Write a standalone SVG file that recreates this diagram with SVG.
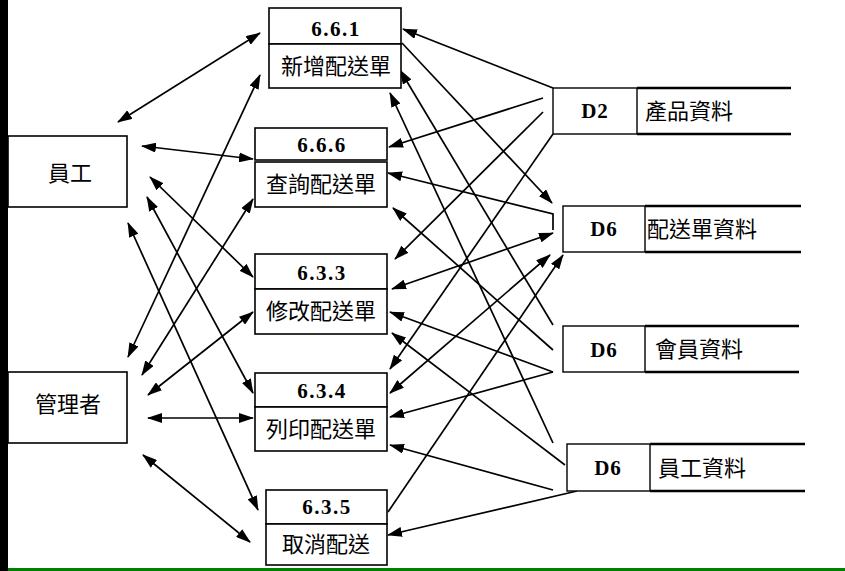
<svg xmlns="http://www.w3.org/2000/svg" width="845" height="571" viewBox="0 0 845 571">
<style>
.box{fill:#fff;stroke:#000;stroke-width:1.6}
.sbox{fill:#fff;stroke:#000;stroke-width:1.4}
.sline{stroke:#000;stroke-width:2.4}
.num{font-family:"Liberation Serif",serif;font-weight:bold;font-size:21px;text-anchor:middle;letter-spacing:1.5px}
.sid{font-family:"Liberation Serif",serif;font-weight:bold;font-size:21px;text-anchor:middle;letter-spacing:1px}
.zh{font-family:"Liberation Serif","Noto Sans CJK TC",serif;font-size:22px;text-anchor:middle}
.zhl{font-family:"Liberation Serif","Noto Sans CJK TC",serif;font-size:22px}
.c{fill:none;stroke:#000;stroke-width:1.7}
</style>
<defs>
<marker id="ah" markerUnits="userSpaceOnUse" markerWidth="15" markerHeight="10" refX="14" refY="5" orient="auto-start-reverse" viewBox="0 0 15 10">
<path d="M0,0 L15,5 L0,10 z" fill="#000"/>
</marker>
</defs>
<rect x="0" y="0" width="845" height="571" fill="#fff"/>

<g id="connectors">
<!-- 員工 -->
<path class="c" d="M118,122 L260,33" marker-start="url(#ah)" marker-end="url(#ah)"/>
<path class="c" d="M142,146 L253,159" marker-start="url(#ah)" marker-end="url(#ah)"/>
<path class="c" d="M150,177 L253,277" marker-start="url(#ah)" marker-end="url(#ah)"/>
<path class="c" d="M147,197 L253,393" marker-start="url(#ah)" marker-end="url(#ah)"/>
<path class="c" d="M128,223 L258,510" marker-start="url(#ah)" marker-end="url(#ah)"/>
<!-- 管理者 -->
<path class="c" d="M128,357 L260,75" marker-start="url(#ah)" marker-end="url(#ah)"/>
<path class="c" d="M142,375 L253,199" marker-start="url(#ah)" marker-end="url(#ah)"/>
<path class="c" d="M148,395 L253,312" marker-start="url(#ah)" marker-end="url(#ah)"/>
<path class="c" d="M148,418 L253,418" marker-start="url(#ah)" marker-end="url(#ah)"/>
<path class="c" d="M143,455 L250,542" marker-start="url(#ah)" marker-end="url(#ah)"/>
<!-- D2 -->
<path class="c" d="M553,88 L403,29" marker-end="url(#ah)"/>
<path class="c" d="M543,98 L389,147" marker-end="url(#ah)"/>
<path class="c" d="M543,112 L395,259" marker-end="url(#ah)"/>
<path class="c" d="M553,134 L390,369" marker-end="url(#ah)"/>
<!-- D6 配送單資料 -->
<path class="c" d="M402,43 L552,203" marker-end="url(#ah)"/>
<path class="c" d="M553,230 L553,214 L388,173" marker-end="url(#ah)"/>
<path class="c" d="M392,289 L553,233" marker-start="url(#ah)" marker-end="url(#ah)"/>
<path class="c" d="M390,393 L550,255" marker-start="url(#ah)" marker-end="url(#ah)"/>
<path class="c" d="M388,512 L563,255" marker-end="url(#ah)"/>
<!-- D6 會員資料 -->
<path class="c" d="M553,325 L400,70" marker-end="url(#ah)"/>
<path class="c" d="M553,350 L393,208" marker-end="url(#ah)"/>
<path class="c" d="M553,372 L390,312" marker-end="url(#ah)"/>
<path class="c" d="M553,372 L390,417" marker-end="url(#ah)"/>
<!-- D6 員工資料 -->
<path class="c" d="M553,443 L390,93" marker-end="url(#ah)"/>
<path class="c" d="M565,465 L392,333" marker-end="url(#ah)"/>
<path class="c" d="M553,490 L390,445" marker-end="url(#ah)"/>
<path class="c" d="M577,491 L388,535" marker-end="url(#ah)"/>
</g>

<g id="e-staff">
<rect class="box" x="8" y="136" width="119" height="71"/>
<text class="zh" x="70" y="181">員工</text>
</g>
<g id="e-manager">
<rect class="box" x="8" y="372" width="119" height="71"/>
<text class="zh" x="68" y="412">管理者</text>
</g>

<g id="p-661">
<rect class="box" x="269" y="8" width="132" height="36"/>
<rect class="box" x="269" y="44" width="132" height="44"/>
<text class="num" x="336" y="36">6.6.1</text>
<text class="zh" x="336" y="74">新增配送單</text>
</g>
<g id="p-666">
<rect class="box" x="255" y="128" width="132" height="32"/>
<rect class="box" x="255" y="162" width="132" height="45"/>
<text class="num" x="322" y="152">6.6.6</text>
<text class="zh" x="321" y="192">查詢配送單</text>
</g>
<g id="p-633">
<rect class="box" x="255" y="254" width="132" height="35"/>
<rect class="box" x="255" y="289" width="132" height="45"/>
<text class="num" x="322" y="280">6.3.3</text>
<text class="zh" x="321" y="319">修改配送單</text>
</g>
<g id="p-634">
<rect class="box" x="255" y="373" width="132" height="34"/>
<rect class="box" x="255" y="407" width="132" height="44"/>
<text class="num" x="322" y="398">6.3.4</text>
<text class="zh" x="321" y="437">列印配送單</text>
</g>
<g id="p-635">
<rect class="box" x="266" y="490" width="121" height="34"/>
<rect class="box" x="266" y="524" width="121" height="41"/>
<text class="num" x="327" y="514">6.3.5</text>
<text class="zh" x="326" y="552">取消配送</text>
</g>

<g id="s-d2">
<rect class="sbox" x="553" y="88" width="84" height="46"/>
<line class="sline" x1="637" y1="88" x2="791" y2="88"/>
<line class="sline" x1="637" y1="134" x2="791" y2="134"/>
<text class="sid" x="595" y="118">D2</text>
<text class="zhl" x="645" y="119">產品資料</text>
</g>
<g id="s-d6-order">
<rect class="sbox" x="563" y="206" width="82" height="46"/>
<line class="sline" x1="645" y1="206" x2="801" y2="206"/>
<line class="sline" x1="645" y1="252" x2="801" y2="252"/>
<text class="sid" x="604" y="236">D6</text>
<text class="zhl" x="647" y="237">配送單資料</text>
</g>
<g id="s-d6-member">
<rect class="sbox" x="563" y="326" width="82" height="46"/>
<line class="sline" x1="645" y1="326" x2="799" y2="326"/>
<line class="sline" x1="645" y1="372" x2="799" y2="372"/>
<text class="sid" x="604" y="357">D6</text>
<text class="zhl" x="655" y="357">會員資料</text>
</g>
<g id="s-d6-staff">
<rect class="sbox" x="567" y="444" width="83" height="47"/>
<line class="sline" x1="650" y1="444" x2="805" y2="444"/>
<line class="sline" x1="650" y1="491" x2="805" y2="491"/>
<text class="sid" x="608" y="475">D6</text>
<text class="zhl" x="658" y="476">員工資料</text>
</g>

<rect x="0" y="0" width="8" height="571" fill="#000"/>
<rect x="8" y="568" width="837" height="3" fill="#008000"/>
</svg>
